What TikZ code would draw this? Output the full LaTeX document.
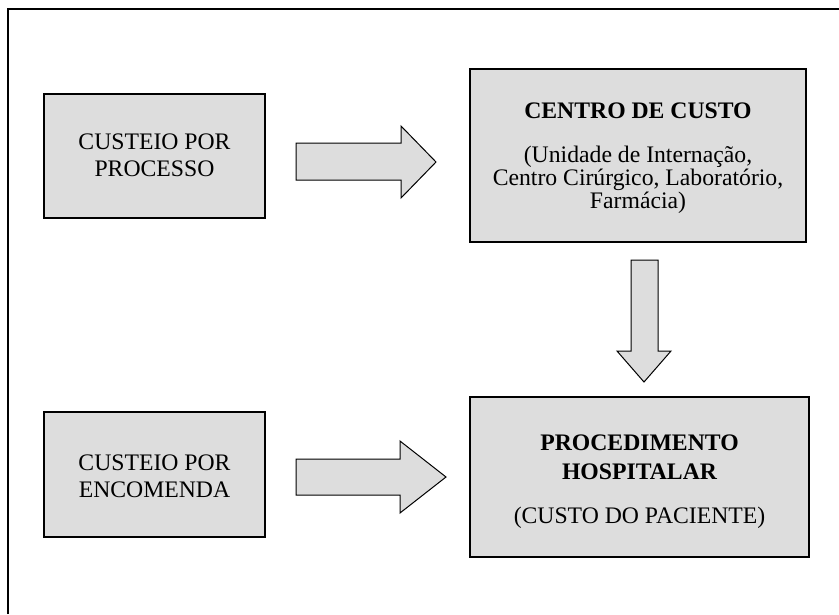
\documentclass[tikz,border=0pt]{standalone}
\usepackage{fontspec}
\setmainfont{Liberation Serif}
\definecolor{boxgray}{HTML}{DDDDDD}
\begin{document}
\begin{tikzpicture}[x=1pt,y=-1pt,
  box/.style={draw=black,line width=2pt,fill=boxgray,inner sep=0pt},
  blockarrow/.style={draw=black,line width=1pt,fill=boxgray,line join=miter},
  txt/.style={align=center,inner sep=0pt,font=\fontsize{23.7}{27}\selectfont},
  small/.style={align=center,inner sep=0pt,font=\fontsize{23.7}{23}\selectfont}]
\useasboundingbox (0,0) rectangle (839,614);
% outer frame (open at right and bottom)
\draw[line width=2pt] (8,614) -- (8,9) -- (839,9);
% boxes
\node[box,minimum width=221pt,minimum height=124pt] (p1) at (154.5,156) {};
\node[box,minimum width=221pt,minimum height=125pt] (enc) at (154.5,474.5) {};
\node[box,minimum width=336pt,minimum height=173pt] (cc) at (638,155.5) {};
\node[box,minimum width=339pt,minimum height=160pt] (ph) at (639.5,477) {};
% texts
\node[txt] (p1t) at (154.5,155) {CUSTEIO POR\\PROCESSO};
\node[txt] (enct) at (154.5,476) {CUSTEIO POR\\ENCOMENDA};
\node[txt,font=\fontsize{23.7}{27}\selectfont\bfseries] (cct) at (638,111) {CENTRO DE CUSTO};
\node[small] (ccs) at (638,180) {(Unidade de Internação,\\Centro Cirúrgico, Laboratório,\\Farmácia)};
\node[txt,font=\fontsize{23.7}{29}\selectfont\bfseries] (pht) at (639.5,457) {PROCEDIMENTO\\HOSPITALAR};
\node[txt] (phs) at (639.5,518) {(CUSTO DO PACIENTE)};
% block arrows
\draw[blockarrow] (296,143) -- (401,143) -- (401,126) -- (436,162) -- (401,198) -- (401,180) -- (296,180) -- cycle;
\draw[blockarrow] (296,459) -- (400,459) -- (400,441) -- (446,477) -- (400,513) -- (400,495) -- (296,495) -- cycle;
\draw[blockarrow] (631,260) -- (658,260) -- (658,351) -- (671,351) -- (644,382) -- (617,351) -- (631,351) -- cycle;
\end{tikzpicture}
\end{document}
